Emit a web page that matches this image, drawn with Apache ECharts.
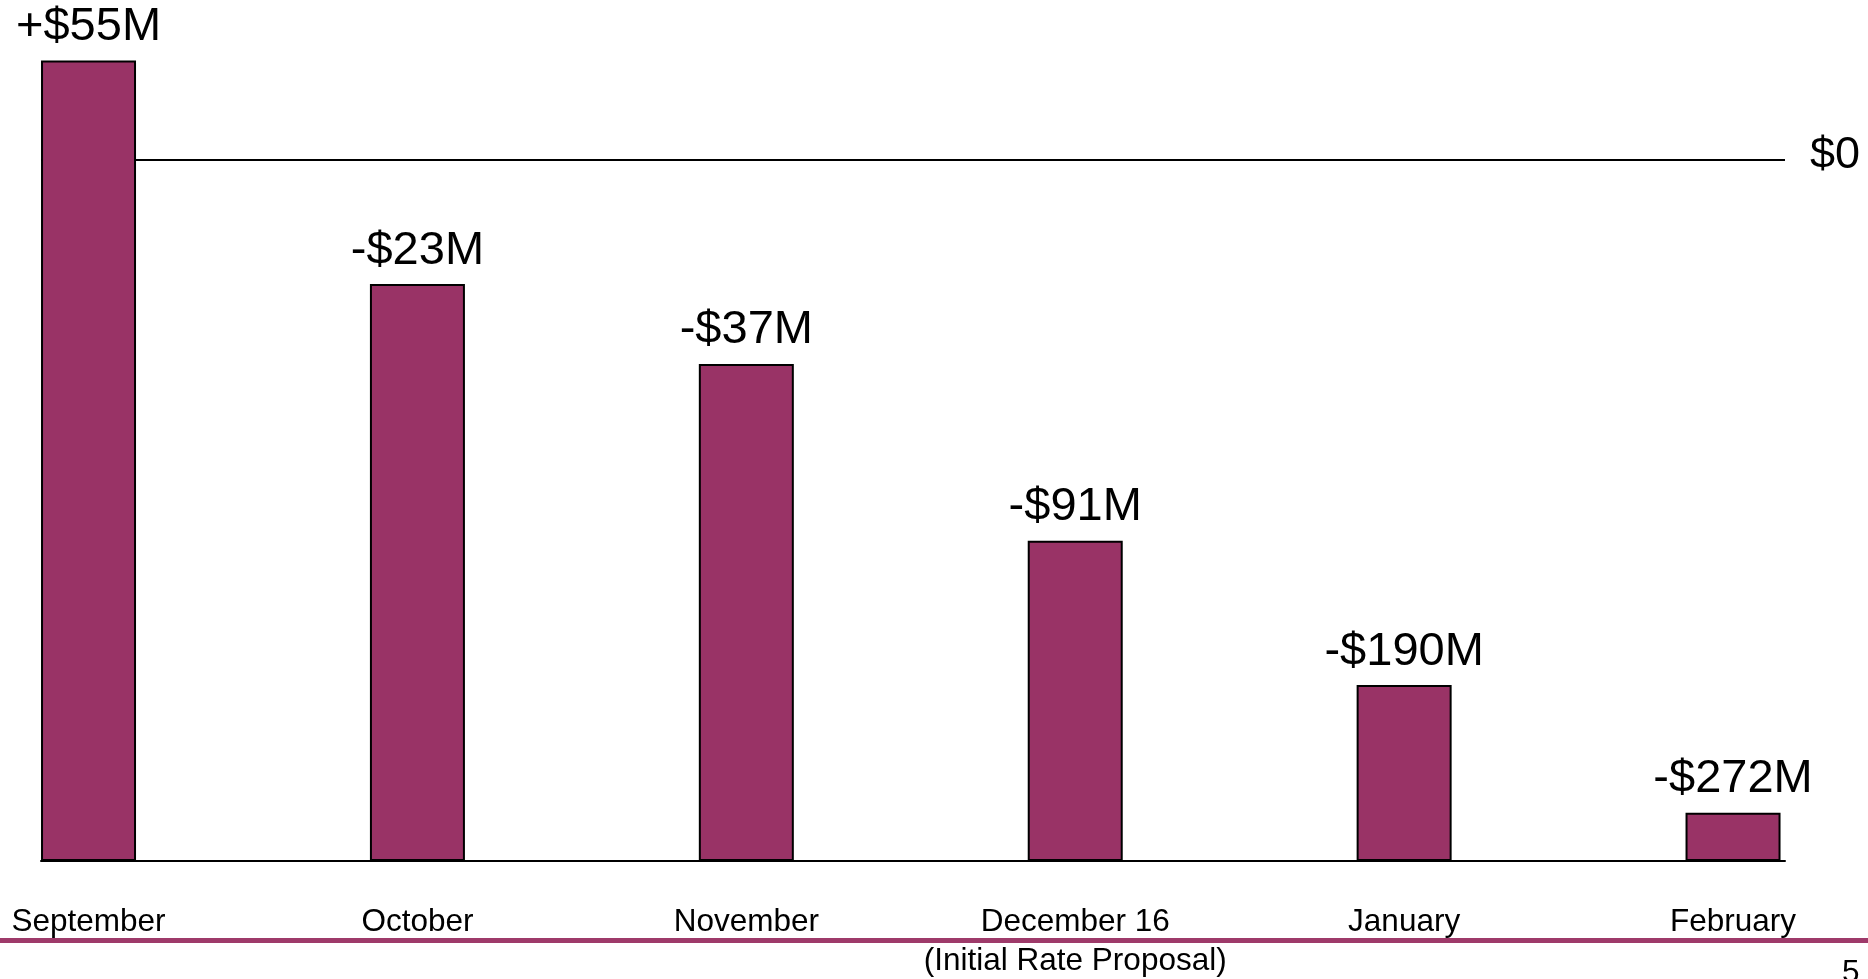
<!DOCTYPE html>
<html>
<head>
<meta charset="utf-8">
<script src="https://cdn.jsdelivr.net/npm/echarts@6/dist/echarts.min.js"></script>
<style>
  html, body { margin: 0; padding: 0; background: #ffffff; }
  #chart { width: 1868px; height: 979px; }
</style>
</head>
<body>
<div id="chart"></div>
<script>
// Categories (x axis)
const categories = ['September', 'October', 'November', 'December 16\n(Initial Rate Proposal)', 'January', 'February'];
// Bar heights as drawn, in chart units where the $0 reference line = 100
const barHeights = [114.2, 82.3, 70.9, 45.7, 25.1, 6.9];
// Value labels shown above each bar
const valueLabels = ['+$55M', '-$23M', '-$37M', '-$91M', '-$190M', '-$272M'];
// Reference line value and its tick label
const zeroLineValue = 100;
const zeroLineLabel = '$0';
const pageNumber = '5';

const FONT = '"Liberation Sans", Arial, Helvetica, sans-serif';
const BAR_COLOR = '#993366';

const chart = echarts.init(document.getElementById('chart'), null, { renderer: 'canvas' });

const option = {
  backgroundColor: '#ffffff',
  animation: false,
  textStyle: { fontFamily: FONT },
  grid: { left: 41, right: 83, top: 19.8, bottom: 118, containLabel: false, outerBoundsMode: 'none' },
  xAxis: {
    type: 'value',
    min: -0.1445,
    max: 5.158,
    splitLine: { show: false },
    axisTick: { show: false },
    axisLine: { show: true, onZero: false, lineStyle: { color: '#000000', width: 2 } },
    axisLabel: {
      customValues: categories.map((c, i) => i),
      formatter: function (v) { return categories[Math.round(v)] || ''; },
      color: '#000000',
      fontFamily: FONT,
      fontSize: 31.5,
      lineHeight: 39,
      margin: 42,
      showMinLabel: true,
      showMaxLabel: true
    }
  },
  yAxis: {
    type: 'value',
    min: 0,
    max: 120,
    position: 'right',
    splitLine: { show: false },
    axisLine: { show: false },
    axisTick: { show: false },
    axisLabel: {
      customValues: [zeroLineValue],
      formatter: function () { return zeroLineLabel; },
      color: '#000000',
      fontFamily: FONT,
      fontSize: 45,
      verticalAlign: 'bottom',
      lineHeight: 9,
      margin: 25,
      showMinLabel: true,
      showMaxLabel: true
    }
  },
  graphic: [
    {
      type: 'rect',
      left: 0,
      top: 938,
      shape: { width: 1868, height: 5 },
      style: { fill: '#9e3a6a' },
      silent: true
    },
    {
      type: 'text',
      left: 1842,
      top: 957,
      style: { text: pageNumber, fontSize: 31.5, fontFamily: FONT, fill: '#000000' },
      silent: true
    }
  ],
  series: [
    {
      type: 'bar',
      z: 2,
      barWidth: 95,
      clip: false,
      data: barHeights.map((h, i) => [i, h]),
      itemStyle: { color: BAR_COLOR, borderColor: '#000000', borderWidth: 2 },
      label: {
        show: true,
        position: 'top',
        distance: 10,
        color: '#000000',
        fontFamily: FONT,
        fontSize: 47,
        lineHeight: 47,
        formatter: function (p) { return valueLabels[p.dataIndex]; }
      },
      markLine: {
        z: 1,
        silent: true,
        symbol: ['none', 'none'],
        lineStyle: { color: '#000000', width: 2, type: 'solid' },
        label: { show: false },
        data: [{ yAxis: zeroLineValue }]
      }
    }
  ]
};

chart.setOption(option);
</script>
</body>
</html>
